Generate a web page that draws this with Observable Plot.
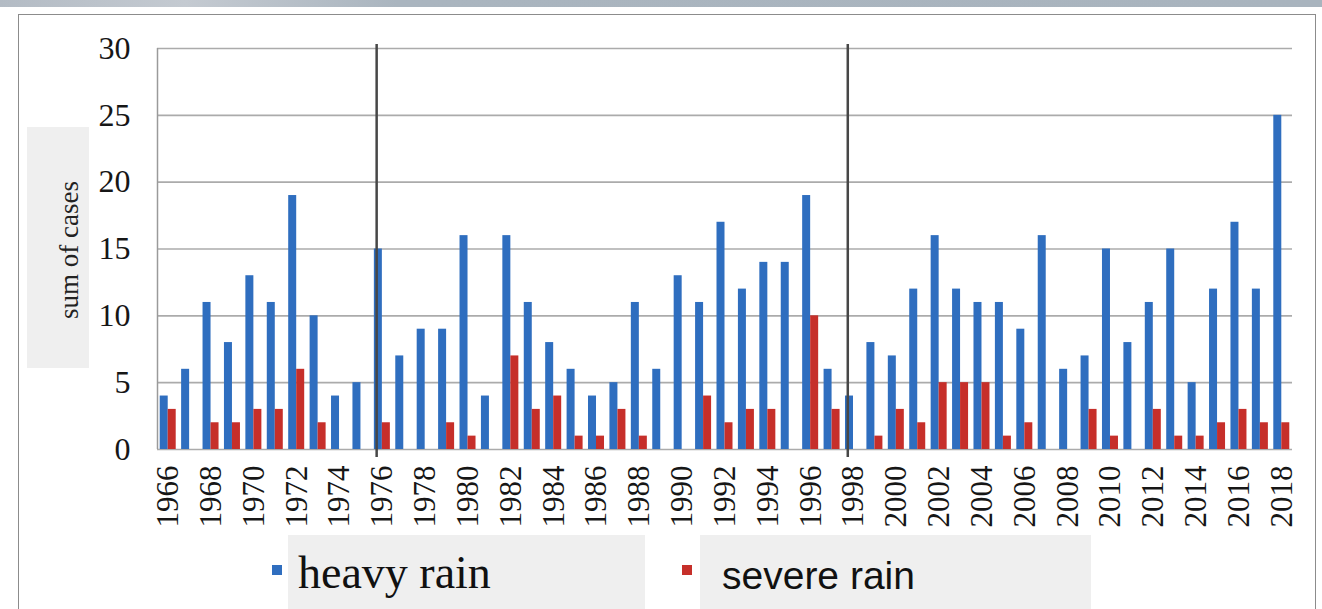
<!DOCTYPE html>
<html>
<head>
<meta charset="utf-8">
<script src="https://cdn.jsdelivr.net/npm/d3@7"></script>
<script src="https://cdn.jsdelivr.net/npm/@observablehq/plot@0.6"></script>
<style>
  html, body { margin: 0; padding: 0; background: #fff; width: 1322px; height: 609px; overflow: hidden; }
  #topband { position: absolute; left: 0; top: 0; width: 1322px; height: 7px;
    background: linear-gradient(90deg, #b3bbc4 0%, #c4cad1 14%, #aab5bf 30%, #a9b4be 100%); }
  #frame { position: absolute; left: 18px; top: 14px; width: 1298px; height: 640px;
    border: 1.5px solid #8c8c8c; box-sizing: border-box; }
  #ylabbox { position: absolute; left: 27px; top: 127px; width: 62px; height: 241px; background: #efefef; }
  #ylab { position: absolute; left: 69px; top: 250px; transform: translate(-50%, -50%) rotate(-90deg);
    font-family: "Liberation Serif", serif; font-size: 27px; white-space: nowrap; color: #222; line-height: 1; }
  #chart { position: absolute; left: 0; top: 0; z-index: 2; }
  .lgbox { position: absolute; top: 535px; height: 80px; background: #efefef; }
  .sw { position: absolute; width: 10px; height: 10px; top: 565px; }
  .lgtxt { position: absolute; white-space: nowrap; color: #111; line-height: 1; }
</style>
</head>
<body>
<div id="topband"></div>
<div id="frame"></div>
<div id="ylabbox"></div>
<div id="ylab"></div>
<div id="legend"></div>
<div id="chart"></div>
<script>
// ---- data ----
const years = [1966,1967,1968,1969,1970,1971,1972,1973,1974,1975,1976,1977,1978,1979,1980,1981,1982,1983,1984,1985,1986,1987,1988,1989,1990,1991,1992,1993,1994,1995,1996,1997,1998,1999,2000,2001,2002,2003,2004,2005,2006,2007,2008,2009,2010,2011,2012,2013,2014,2015,2016,2017,2018];
const heavyRain  = [4,6,11,8,13,11,19,10,4,5,15,7,9,9,16,4,16,11,8,6,4,5,11,6,13,11,17,12,14,14,19,6,4,8,7,12,16,12,11,11,9,16,6,7,15,8,11,15,5,12,17,12,25];
const severeRain = [3,0,2,2,3,3,6,2,0,0,2,0,0,2,1,0,7,3,4,1,1,3,1,0,0,4,2,3,3,0,10,3,0,1,3,2,5,5,5,1,2,0,0,3,1,0,3,1,1,2,3,2,2];
const xTickYears = [1966,1968,1970,1972,1974,1976,1978,1980,1982,1984,1986,1988,1990,1992,1994,1996,1998,2000,2002,2004,2006,2008,2010,2012,2014,2016,2018];
const yTicks = [0,5,10,15,20,25,30];
const dividers = [1976, 1998];
const seriesNames = ["heavy rain", "severe rain"];
const yLabel = "sum of cases";

// ---- styles ----
const blue = "#2f6ebf";
const red = "#c62f2a";

const data = years.map((y, i) => ({year: y, heavy: heavyRain[i], severe: severeRain[i]}));

const W = 1322, H = 530, mL = 157, mR = 30, mT = 48, mB = 81;
const bw = (W - mL - mR) / years.length;
const barW = 8;

const chart = Plot.plot({
  width: W, height: H,
  marginLeft: mL, marginRight: mR, marginTop: mT, marginBottom: mB,
  style: {background: "transparent", fontFamily: "'Liberation Serif', serif", fontSize: "32px", color: "#161616", overflow: "visible"},
  x: {type: "band", domain: years, padding: 0, round: false, axis: null},
  y: {domain: [0, 30], ticks: yTicks, tickSize: 0, tickPadding: 27, label: null},
  marks: [
    Plot.ruleY(yTicks, {stroke: "#ababab", strokeWidth: 1.6}),
    Plot.ruleX([years[0]], {dx: -bw / 2, y1: 30, y2: 0, stroke: "#9a9a9a", strokeWidth: 1.5}),
    Plot.barY(data, {x: "year", y: "heavy", fill: blue, insetLeft: bw / 2 - barW, insetRight: bw / 2}),
    Plot.barY(data, {x: "year", y: "severe", fill: red, insetLeft: bw / 2, insetRight: bw / 2 - barW}),
    Plot.ruleX(dividers, {x: d => d, y1: 30, y2: 0, dx: -(bw / 2 - 5), insetTop: -4, insetBottom: -8, stroke: "#474747", strokeWidth: 2.5}),
    Plot.text(xTickYears, {x: d => d, y: 0, text: d => String(d), rotate: -90, textAnchor: "end", lineAnchor: "middle",
      dy: 16, fontSize: 31, fill: "#161616"})
  ]
});
document.getElementById("chart").appendChild(chart);

document.getElementById("ylab").textContent = yLabel;

// legend
const legend = document.getElementById("legend");
const lg = [
  {name: seriesNames[0], color: blue, box: [288, 357], sw: 272, tx: 298, top: 550, font: "'Liberation Serif', serif", size: 46},
  {name: seriesNames[1], color: red, box: [700, 391], sw: 682, tx: 722, top: 556, font: "'Liberation Sans', sans-serif", size: 39}
];
for (const l of lg) {
  const b = document.createElement("div");
  b.className = "lgbox"; b.style.left = l.box[0] + "px"; b.style.width = l.box[1] + "px";
  legend.appendChild(b);
  const s = document.createElement("div");
  s.className = "sw"; s.style.left = l.sw + "px"; s.style.background = l.color;
  legend.appendChild(s);
  const t = document.createElement("div");
  t.className = "lgtxt"; t.style.left = l.tx + "px"; t.style.top = l.top + "px";
  t.style.fontFamily = l.font; t.style.fontSize = l.size + "px";
  t.textContent = l.name;
  legend.appendChild(t);
}
</script>
</body>
</html>
